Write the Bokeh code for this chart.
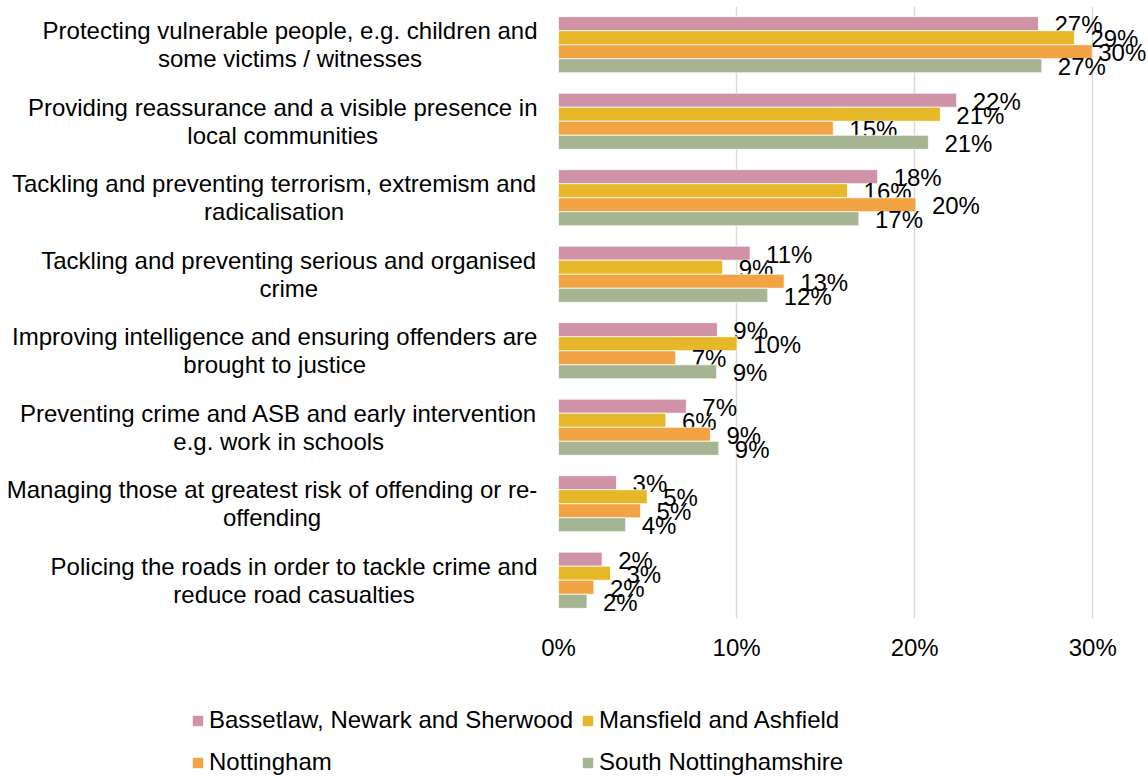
from bokeh.plotting import figure
from bokeh.layouts import row, column
from bokeh.models import (FactorRange, Range1d, ColumnDataSource, Legend,
                          LegendItem, FixedTicker)
from bokeh.transform import dodge
from bokeh.core.properties import value
from bokeh.embed import file_html
from bokeh.resources import INLINE

categories = [
    "Protecting vulnerable people, e.g. children and\nsome victims / witnesses",
    "Providing reassurance and a visible presence in\nlocal communities",
    "Tackling and preventing terrorism, extremism and\nradicalisation",
    "Tackling and preventing serious and organised\ncrime",
    "Improving intelligence and ensuring offenders are\nbrought to justice",
    "Preventing crime and ASB and early intervention\ne.g. work in schools",
    "Managing those at greatest risk of offending or re-\noffending",
    "Policing the roads in order to tackle crime and\nreduce road casualties",
]
series_names = ["Bassetlaw, Newark and Sherwood", "Mansfield and Ashfield",
                "Nottingham", "South Nottinghamshire"]
bassetlaw = [26.95, 22.36, 17.92, 10.76, 8.92, 7.18, 3.26, 2.45]
mansfield = [28.97, 21.44, 16.23, 9.22, 10.03, 6.03, 4.98, 2.92]
nottingham = [29.97, 15.43, 20.07, 12.67, 6.58, 8.53, 4.61, 1.99]
south_notts = [27.14, 20.77, 16.87, 11.75, 8.88, 9.0, 3.77, 1.6]
series_values = [bassetlaw, mansfield, nottingham, south_notts]
colors = ["#D092A7", "#E6B729", "#F2A444", "#A5B592"]
tick_values = [0, 10, 20, 30]
tick_labels = ["0%", "10%", "20%", "30%"]

FONT = "Liberation Sans"
FS = 24
LEFT_W, PAD_L, FRAME_W, TOP_H, LEG_H = 538, 20, 590, 678, 98
TOTAL_W = LEFT_W + PAD_L + FRAME_W

# Arial / Liberation Sans advance widths (per 1000 em), used to centre the
# two lines of each wrapped category label on each other
_W = dict(zip("abcdefghijklmnopqrstuvwxyz",
              [556, 556, 500, 556, 556, 278, 556, 556, 222, 222, 500, 222, 833,
               556, 556, 556, 556, 333, 500, 278, 556, 500, 722, 500, 500, 500]))
_W.update(dict(zip("ABCDEFGHIJKLMNOPQRSTUVWXYZ",
                   [667, 667, 722, 722, 667, 611, 778, 722, 278, 500, 667, 556, 833,
                    722, 778, 667, 778, 722, 667, 611, 722, 667, 944, 667, 667, 611])))
_W.update({" ": 278, ",": 278, ".": 278, "/": 278, "-": 333})


def text_width(s):
    return sum(_W.get(c, 556) for c in s) * FS / 1000.0


factors = list(reversed(categories))
yr = FactorRange(factors=factors, range_padding=0)

# ---------------- main chart ----------------
p = figure(width=PAD_L + FRAME_W, height=TOP_H, y_range=yr, x_range=Range1d(0, 33.13),
           output_backend="svg", toolbar_location=None, title=None,
           min_border_left=PAD_L, min_border_right=0, min_border_top=6,
           min_border_bottom=60)
p.outline_line_color = None
p.yaxis.visible = False
p.ygrid.grid_line_color = None
p.xgrid.grid_line_color = "#d9d9d9"
p.xgrid.grid_line_width = 1.5
p.xaxis.ticker = FixedTicker(ticks=tick_values)
p.xaxis.major_label_overrides = dict(zip(tick_values, tick_labels))
p.xaxis.axis_line_color = None
p.xaxis.major_tick_line_color = None
p.xaxis.minor_tick_line_color = None
p.xaxis.major_label_text_font = FONT
p.xaxis.major_label_text_font_size = f"{FS}px"
p.xaxis.major_label_text_color = "#000000"
p.xaxis.major_label_standoff = 9

h = 0.1836
for j, (vals, col) in enumerate(zip(series_values, colors)):
    off = (1.5 - j) * h
    src = ColumnDataSource(dict(
        cat=categories, val=vals,
        lbl=[f"{v:.0f}%" for v in vals],
        xo=[16 if v < 29.5 else 6 for v in vals]))
    p.hbar(y=dodge("cat", off, range=yr), left=0, right="val", height=h,
           source=src, fill_color=col, line_color="#ffffff", line_width=0.75)
    p.text(x="val", y=dodge("cat", off, range=yr), text="lbl", x_offset="xo",
           y_offset=1, source=src, text_font=value(FONT), text_font_size=f"{FS}px",
           text_baseline="middle", text_align="left", text_color="#000000")

# ---------------- category labels (left strip, shares the y range) ----------------
lab = figure(width=LEFT_W, height=TOP_H, y_range=yr, x_range=Range1d(0, LEFT_W),
             output_backend="svg", toolbar_location=None, title=None,
             x_axis_location=None, y_axis_location=None,
             min_border_left=0, min_border_right=0, min_border_top=6,
             min_border_bottom=60)
lab.outline_line_color = None
lab.grid.grid_line_color = None
split = [c.split("\n") for c in categories]
centres = [537 - max(text_width(s) for s in ls) / 2.0 for ls in split]
line_dy = 0.183
for k, dy in enumerate([line_dy, -line_dy]):
    lsrc = ColumnDataSource(dict(cat=categories, cx=centres,
                                 txt=[ls[k] if k < len(ls) else "" for ls in split]))
    lab.text(x="cx", y=dodge("cat", dy, range=yr), text="txt", source=lsrc,
             text_font=value(FONT), text_font_size=f"{FS}px",
             text_align="center", text_baseline="middle", text_color="#000000")

# ---------------- legend strip ----------------
leg = figure(width=TOTAL_W, height=LEG_H, x_range=Range1d(0, TOTAL_W),
             y_range=Range1d(0, LEG_H), output_backend="svg", toolbar_location=None,
             title=None, x_axis_location=None, y_axis_location=None,
             min_border=0)
leg.outline_line_color = None
leg.grid.grid_line_color = None
# zero-size proxy renderers that only supply the legend swatches
proxies = [leg.hbar(y=[0], left=[0], right=[0], height=0, fill_color=c,
                    line_color=None) for c in colors]


def make_legend(idx, loc):
    lg = Legend(items=[LegendItem(label=series_names[i], renderers=[proxies[i]])
                       for i in idx],
                location=loc, orientation="vertical",
                glyph_width=13, glyph_height=13, label_standoff=5,
                label_text_font=FONT, label_text_font_size=f"{FS}px",
                label_text_color="#000000", label_height=28, spacing=14,
                padding=0, margin=0, border_line_color=None,
                background_fill_alpha=0)
    leg.add_layout(lg)


make_legend([0, 2], (191, 0))
make_legend([1, 3], (581, 0))

layout = column(row(lab, p, spacing=0), leg, spacing=0)
open("out.html", "w").write(file_html(layout, INLINE))
